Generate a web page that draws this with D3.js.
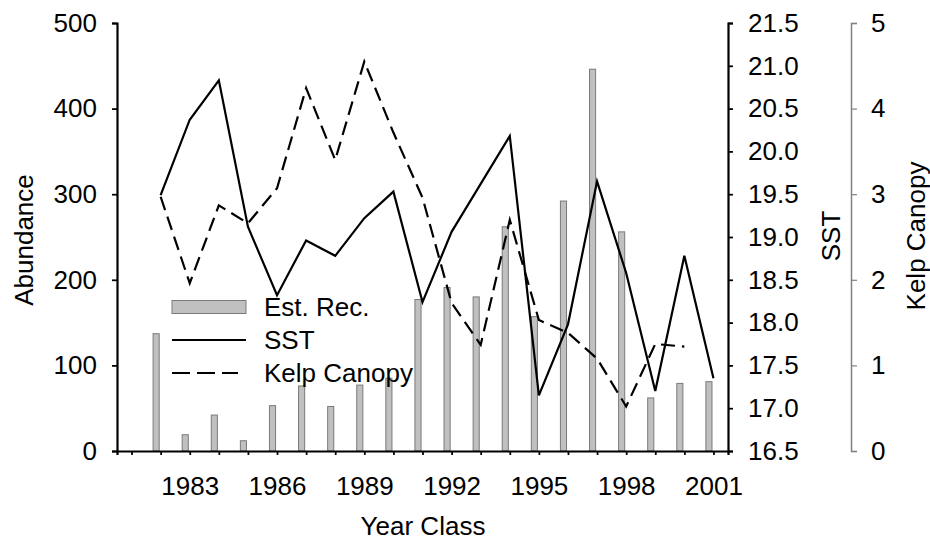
<!DOCTYPE html>
<html>
<head>
<meta charset="utf-8">
<script src="https://cdn.jsdelivr.net/npm/d3@7"></script>
<style>
  html, body { margin: 0; padding: 0; background: #fff; }
  svg { display: block; font-family: "Liberation Sans", Arial, sans-serif; }
</style>
</head>
<body>
<svg id="chart" width="930" height="542"></svg>
<script>
// Year classes
const years = [1982, 1983, 1984, 1985, 1986, 1987, 1988, 1989, 1990, 1991,
               1992, 1993, 1994, 1995, 1996, 1997, 1998, 1999, 2000, 2001];
// Estimated recruitment (abundance)
const estRec = [137, 19, 42, 12, 53, 76, 52, 77, 85, 177,
                191, 180, 262, 157, 292, 446, 256, 62, 79, 81];
// Sea surface temperature
const sst = [19.49, 20.37, 20.83, 19.12, 18.32, 18.96, 18.78, 19.22, 19.53, 18.24,
             19.06, 19.62, 20.18, 17.15, 17.98, 19.65, 18.58, 17.20, 18.78, 17.35];
// Kelp canopy (1982-2000)
const kelpYears = [1982, 1983, 1984, 1985, 1986, 1987, 1988, 1989, 1990, 1991,
                   1992, 1993, 1994, 1995, 1996, 1997, 1998, 1999, 2000];
const kelp = [2.97, 1.96, 2.87, 2.66, 3.07, 4.24, 3.40, 4.55, 3.72, 2.96,
              1.73, 1.24, 2.70, 1.53, 1.38, 1.08, 0.52, 1.25, 1.22];
// Axis ticks
const xTicks = d3.range(1981, 2002);
const xLabels = [1983, 1986, 1989, 1992, 1995, 1998, 2001];
const abundanceTicks = [0, 100, 200, 300, 400, 500];
const sstTicks = [16.5, 17.0, 17.5, 18.0, 18.5, 19.0, 19.5, 20.0, 20.5, 21.0, 21.5];
const kelpTicks = [0, 1, 2, 3, 4, 5];
const legendItems = ["Est. Rec.", "SST", "Kelp Canopy"];

const svg = d3.select("#chart");
const plotLeft = 117, plotRight = 728, plotTop = 23, plotBottom = 451;
const FS = 26;

const x = d3.scaleLinear().domain([1980.5, 2001.5]).range([plotLeft, plotRight]);
const yAb = d3.scaleLinear().domain([0, 500]).range([plotBottom, plotTop]);
const ySst = d3.scaleLinear().domain([16.5, 21.5]).range([plotBottom, plotTop]);
const yKelp = d3.scaleLinear().domain([0, 5]).range([plotBottom, plotTop]);
const step = x(1983) - x(1982);

// Recruitment bars, set just left of each year tick
svg.append("g").selectAll("rect")
  .data(years.map((yr, i) => ({ yr, v: estRec[i] })))
  .join("rect")
  .attr("x", d => x(d.yr) - step * 0.26)
  .attr("y", d => yAb(d.v))
  .attr("width", step * 0.21)
  .attr("height", d => yAb(0) - yAb(d.v))
  .attr("fill", "#c0c0c0")
  .attr("stroke", "#7a7a7a")
  .attr("stroke-width", 1);

// SST line
svg.append("path")
  .datum(years.map((yr, i) => [yr, sst[i]]))
  .attr("fill", "none")
  .attr("stroke", "#000")
  .attr("stroke-width", 2.2)
  .attr("stroke-linejoin", "miter")
  .attr("d", d3.line().x(d => x(d[0])).y(d => ySst(d[1])));

// Kelp canopy line
svg.append("path")
  .datum(kelpYears.map((yr, i) => [yr, kelp[i]]))
  .attr("fill", "none")
  .attr("stroke", "#000")
  .attr("stroke-width", 2.2)
  .attr("stroke-dasharray", "14,7")
  .attr("d", d3.line().x(d => x(d[0])).y(d => yKelp(d[1])));

// Axes
function styleAxis(g, color, width) {
  g.selectAll(".domain").attr("stroke", color).attr("stroke-width", width);
  g.selectAll(".tick line").attr("stroke", color).attr("stroke-width", width * 0.8);
  g.selectAll(".tick text").attr("fill", "#000").style("font-size", FS + "px")
    .style("font-family", "'Liberation Sans', Arial, sans-serif");
}

const gx = svg.append("g").attr("transform", `translate(0,${plotBottom})`)
  .call(d3.axisBottom(x).tickValues(xTicks).tickSizeOuter(0).tickSize(4).tickPadding(22)
    .tickFormat(d => xLabels.includes(d) ? String(d) : ""));
styleAxis(gx, "#000", 2.2);

const gy = svg.append("g").attr("transform", `translate(${plotLeft},0)`)
  .call(d3.axisLeft(yAb).tickValues(abundanceTicks).tickSizeOuter(0).tickSize(5).tickPadding(15));
styleAxis(gy, "#000", 2.2);

const gs = svg.append("g").attr("transform", `translate(${plotRight},0)`)
  .call(d3.axisRight(ySst).tickValues(sstTicks).tickSizeOuter(0).tickSize(5).tickPadding(15)
    .tickFormat(d3.format(".1f")));
styleAxis(gs, "#000", 2.2);

const gk = svg.append("g").attr("transform", "translate(851,0)")
  .call(d3.axisRight(yKelp).tickValues(kelpTicks).tickSizeOuter(0).tickSize(6).tickPadding(14)
    .tickFormat(d3.format("d")));
styleAxis(gk, "#808080", 1.5);

// Axis titles
const title = (txt, tx, ty, rot) => svg.append("text")
  .attr("transform", `translate(${tx},${ty}) rotate(${rot})`)
  .attr("text-anchor", "middle")
  .style("font-size", FS + "px")
  .text(txt);
title("Year Class", 423, 535, 0);
title("Abundance", 33, 240, -90);
title("SST", 840, 236, -90);
title("Kelp Canopy", 925, 236, -90);

// Legend
const lg = svg.append("g");
const lx0 = 172, lx1 = 246, ly = [307, 340, 373];
lg.append("rect").attr("x", lx0).attr("y", ly[0] - 6.5).attr("width", lx1 - lx0).attr("height", 13)
  .attr("fill", "#c0c0c0").attr("stroke", "#7a7a7a").attr("stroke-width", 1);
lg.append("line").attr("x1", lx0).attr("x2", lx1).attr("y1", ly[1]).attr("y2", ly[1])
  .attr("stroke", "#000").attr("stroke-width", 2.2);
lg.append("line").attr("x1", lx0).attr("x2", lx1 - 8).attr("y1", ly[2]).attr("y2", ly[2])
  .attr("stroke", "#000").attr("stroke-width", 2.2).attr("stroke-dasharray", "18,7");
lg.selectAll("text.lbl").data(legendItems).join("text")
  .attr("class", "lbl")
  .attr("x", 264)
  .attr("y", (d, i) => ly[i])
  .attr("dy", "0.35em")
  .style("font-size", FS + "px")
  .text(d => d);
</script>
</body>
</html>
